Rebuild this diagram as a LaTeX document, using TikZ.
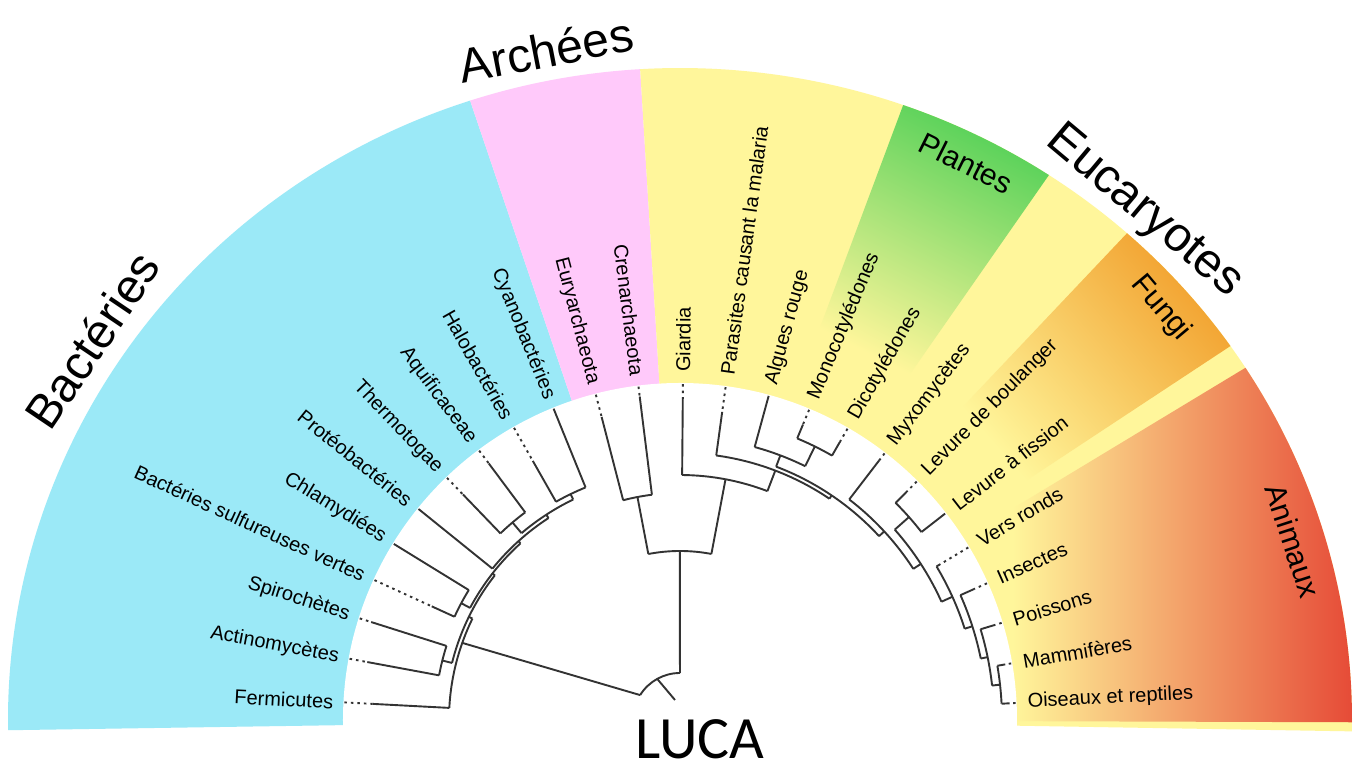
\documentclass[tikz,border=0pt]{standalone}
\usepackage{fontspec}
\setmainfont{Liberation Sans}
\newfontfamily\lucafont{Carlito}
\definecolor{bactcol}{HTML}{9BE9F7}
\definecolor{archcol}{HTML}{FFC9FA}
\definecolor{eucol}{HTML}{FFF69B}
\definecolor{plantgreen}{HTML}{5AD25A}
\definecolor{fungiorange}{HTML}{F2A432}
\definecolor{animred}{HTML}{E64B37}
\definecolor{treecol}{HTML}{333333}
\pgfdeclareverticalshading{plantshade}{100bp}{color(0bp)=(eucol); color(35bp)=(eucol); color(75bp)=(plantgreen); color(100bp)=(plantgreen)}
\pgfdeclareverticalshading{fungishade}{100bp}{color(0bp)=(eucol); color(35bp)=(eucol); color(75bp)=(fungiorange); color(100bp)=(fungiorange)}
\pgfdeclarehorizontalshading{animshade}{100bp}{color(0bp)=(eucol); color(32bp)=(eucol); color(75bp)=(animred); color(100bp)=(animred)}
\begin{document}
\begin{tikzpicture}[x=1pt,y=1pt,
  br/.style={draw=treecol,line width=1.9pt},
  dotbr/.style={draw=treecol,line width=1.9pt,dash pattern=on 2.5pt off 4pt},
  leaf/.style={font=\fontsize{20}{22}\selectfont,inner sep=0pt,text=black},
  big/.style={font=\fontsize{48}{50}\selectfont,inner sep=0pt},
  group/.style={font=\fontsize{30}{32}\selectfont,inner sep=0pt},
  lucastyle/.style={font=\lucafont\fontsize{60}{62}\selectfont,inner sep=0pt}]
\useasboundingbox (-680,-47) rectangle (673,720);
\fill[white] (-680,-47) rectangle (673,720);
% coloured sectors
\fill[bactcol] (0,0) -- (180.9:672pt and 652pt) arc[start angle=180.9,end angle=108.2,x radius=672pt,y radius=652pt] -- cycle;
\fill[archcol] (0,0) -- (108.2:672pt and 652pt) arc[start angle=108.2,end angle=93.4,x radius=672pt,y radius=652pt] -- cycle;
\fill[eucol] (0,0) -- (93.4:672pt and 652pt) arc[start angle=93.4,end angle=-1,x radius=672pt,y radius=652pt] -- cycle;
\shade[shading=plantshade,shading angle=-27] (56.7:330pt) -- (56.7:672pt and 652pt) arc[start angle=56.7,end angle=70.6,x radius=672pt,y radius=652pt] -- (70.6:330pt) -- cycle;
\shade[shading=fungishade,shading angle=-49] (35:330pt) -- (35:672pt and 652pt) arc[start angle=35,end angle=48.3,x radius=672pt,y radius=652pt] -- (48.3:330pt) -- cycle;
\shade[shading=animshade] (-0.2:330pt) -- (-0.2:672pt and 652pt) arc[start angle=-0.2,end angle=32.7,x radius=672pt,y radius=652pt] -- (32.7:330pt) -- cycle;
\fill[white] (0,0) circle[radius=337pt];
% leaves: angle / parent radius / end of dotted part
\foreach \a/\p/\d in {177/231/308, 169.5/245/318, 162.4/245/324, 155.4/248/273, 148.4/248/336, 141.1/241/336, 133.9/259/313, 126.7/259/320, 119.6/251/298, 112.1/251/336, 104.5/227/313, 97.1/227/326, 89.5/245/322, 82.2/267/311, 74.7/283/336, 67.4/305/320, 60.1/305/321, 52.5/278/327, 45.2/306/323, 37.9/306/336, 30.9/299/303, 24/307/322, 16.8/314/328, 9.7/322/330, 2.9/322/330}
{ \draw[dotbr] (\a:336pt) -- (\a:\d pt); \draw[br] (\a:\d pt) -- (\a:\p pt); }
% internal node arcs: from angle / to angle / radius
\foreach \a/\b/\r in {153.97/177/231, 141.99/165.95/235, 162.4/169.5/245, 132.09/151.9/238, 148.4/155.4/248, 123.075/141.1/241, 115.85/130.3/245, 126.7/133.9/259, 112.1/119.6/251, 97.1/104.5/227, 79.29/100.8/169, 69.09/89.5/245, 55.97/82.2/267, 42.72/69.225/271, 63.75/74.7/283, 60.1/67.4/305, 32.94/52.5/278, 24.34/41.55/287, 37.9/45.2/306, 17.775/30.9/299, 11.55/24/307, 6.3/16.8/314, 2.9/9.7/322}
{ \draw[br] (\a:\r pt) arc[start angle=\a,end angle=\b,radius=\r pt]; }
% stems: angle / node radius / parent radius
\foreach \a/\r/\p in {165.95/245/235, 151.9/248/238, 130.3/259/245, 115.85/251/245, 123.075/245/241, 132.09/241/238, 141.99/238/235, 153.97/235/231, 100.8/227/169, 63.75/305/283, 69.225/283/271, 6.3/322/314, 11.55/314/307, 17.775/307/299, 24.34/299/287, 41.55/306/287, 32.94/287/278, 42.72/278/271, 55.97/271/267, 69.09/267/245, 79.29/245/169, 90.05/169/47}
{ \draw[br] (\a:\r pt) -- (\a:\p pt); }
% root
\coordinate (rootA) at (90:47pt);
\coordinate (rootB) at (148:47pt);
\coordinate (rootM) at (119:47pt);
\coordinate (lucaend) at (-5,20);
\coordinate (bactnode) at (160.5:231pt);
\draw[br] (rootA) arc[start angle=90,end angle=148,radius=47pt];
\draw[br] (rootM) -- (lucaend);
\draw[br] (rootB) -- (bactnode);
% leaf labels
\foreach \a/\t [count=\i] in {177/Fermicutes, 169.5/Actinomycètes, 162.4/Spirochètes, 155.4/Bactéries sulfureuses vertes, 148.4/Chlamydiées, 141.1/Protéobactéries, 133.9/Thermotogae, 126.7/Aquificaceae, 119.6/Halobactéries, 112.1/Cyanobactéries, 104.5/Euryarchaeota, 97.1/Crenarchaeota}
{ \node[leaf,anchor=east,rotate=\a-180] (lb\i) at (\a:347pt) {\t}; }
\foreach \a/\t [count=\i] in {89.5/Giardia, 82.2/Parasites causant la malaria, 74.7/Algues rouge, 67.4/Monocotylédones, 60.1/Dicotylédones, 52.5/Myxomycètes, 45.2/Levure de boulanger, 37.9/Levure à fission, 30.9/Vers ronds, 24/Insectes, 16.8/Poissons, 9.7/Mammifères, 2.9/Oiseaux et reptiles}
{ \node[leaf,anchor=west,rotate=\a] (lr\i) at (\a:348pt) {\t}; }
% group labels
\node[big,rotate=11] (arch) at (-134,670) {Archées};
\node[big,rotate=56] (bact) at (-588,380) {Bactéries};
\node[big,rotate=-40] (euk) at (464,508) {Eucaryotes};
\node[lucastyle] (luca) at (20,-19) {LUCA};
\node[group,rotate=-26.5] (plantes) at (286,557) {Plantes};
\node[group,rotate=-50] (fungi) at (481,412) {Fungi};
\node[group,rotate=-72] (anim) at (613,179) {Animaux};
\end{tikzpicture}
\end{document}
